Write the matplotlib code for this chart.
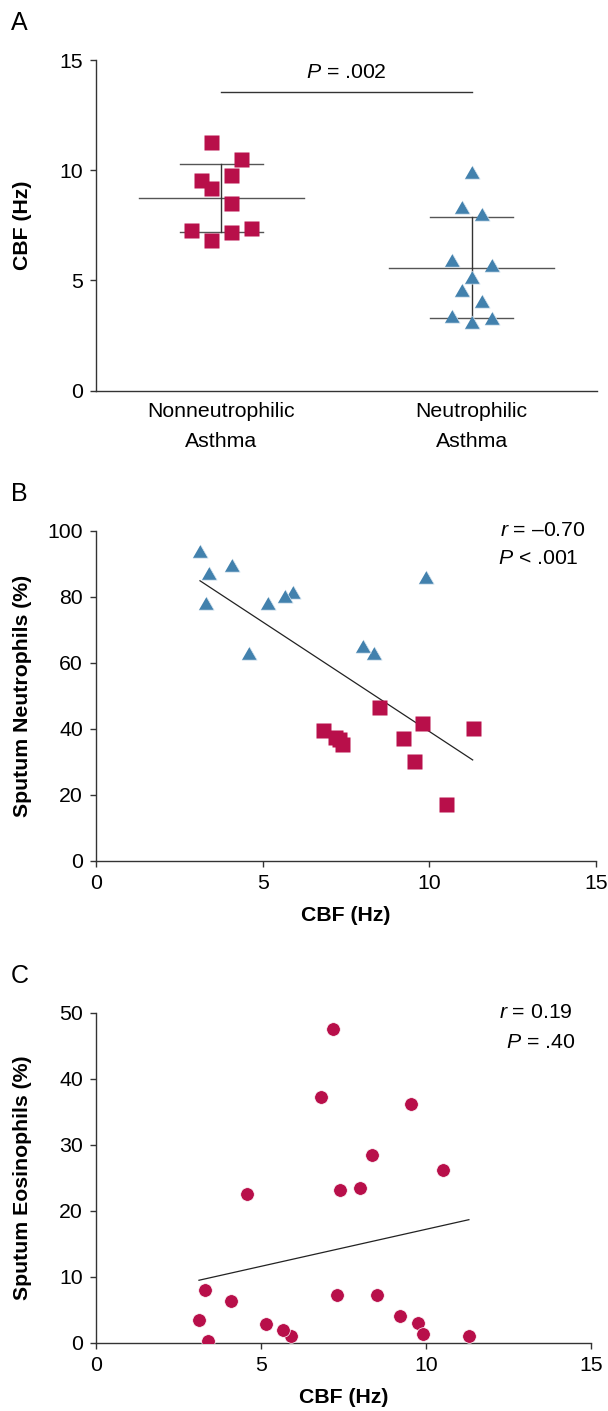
import numpy as np
import matplotlib
matplotlib.use("Agg")
import matplotlib.pyplot as plt

plt.rcParams['font.family'] = ['Liberation Sans', 'DejaVu Sans']
plt.rcParams['mathtext.fontset'] = 'custom'
plt.rcParams['mathtext.rm'] = 'Liberation Sans'
plt.rcParams['mathtext.it'] = 'Liberation Sans:italic'

# group labels for panel A
groups = ['Nonneutrophilic\nAsthma', 'Neutrophilic\nAsthma']

# nonneutrophilic asthma (squares)
non_cbf = [11.3, 10.5, 9.77, 9.54, 9.2, 8.5, 7.38, 7.3, 7.18, 6.82]
non_neut = [40.1, 17.1, 41.8, 30.1, 37.1, 46.5, 35.3, 36.8, 37.6, 39.5]
non_eos = [1.0, 26.2, 3.0, 36.2, 4.0, 7.2, 23.2, 7.2, 47.5, 37.2]

# neutrophilic asthma (triangles)
neu_cbf = [9.9, 8.35, 8.0, 5.91, 5.68, 5.15, 4.58, 4.08, 3.39, 3.3, 3.12]
neu_neut = [86.1, 63.0, 65.2, 81.4, 80.2, 78.0, 63.0, 89.6, 87.3, 78.0, 93.9]
neu_eos = [1.3, 28.5, 23.4, 1.0, 2.0, 2.8, 22.5, 6.3, 0.3, 8.0, 3.5]

# stats printed on the panels
p_groups = '.002'
r_neut, p_neut = '–0.70', '< .001'
r_eos, p_eos = '0.19', '= .40'

# horizontal spread of the points in panel A (in steps)
non_jit = [-1, 2, 1, -2, -1, 1, 3, -3, 1, -1]
neu_jit = [0, -1, 1, -2, 2, 0, -1, 1, -2, 2, 0]

RED = '#B80F4A'
BLUE = '#4281AD'
AX = '#333333'
TRI = [(-1, -0.866), (1, -0.866), (0, 0.866)]
FS = 15.3

W, H = 608, 1411
fig = plt.figure(figsize=(W / 100, H / 100), dpi=100)


def px(x0, y0, x1, y1):
    return [x0 / W, 1 - y1 / H, (x1 - x0) / W, (y1 - y0) / H]


def style(ax):
    for s in ['top', 'right']:
        ax.spines[s].set_visible(False)
    for s in ['left', 'bottom']:
        ax.spines[s].set_color(AX)
        ax.spines[s].set_linewidth(1.0)
    ax.tick_params(direction='out', length=4.5, width=1.0, color=AX,
                   labelsize=FS, pad=5)


# ---- panel A
axA = fig.add_axes(px(96, 60, 597, 390.7))
style(axA)
axA.set_xlim(0, 2)
axA.set_ylim(0, 15)
axA.set_yticks([0, 5, 10, 15])
axA.set_xticks([0.5, 1.5])
axA.set_xticklabels(groups, linespacing=1.75)
axA.tick_params(axis='x', length=0, pad=8)

step = 0.04
for xc, vals, jit in [(0.5, non_cbf, non_jit), (1.5, neu_cbf, neu_jit)]:
    m = np.mean(vals)
    s = np.std(vals, ddof=1)
    axA.plot([xc - 0.33, xc + 0.33], [m, m], color='#555555', lw=1.0, zorder=1)
    axA.plot([xc - 0.165, xc + 0.165], [m + s, m + s], color='#555555', lw=1.0, zorder=1)
    axA.plot([xc - 0.165, xc + 0.165], [m - s, m - s], color='#555555', lw=1.0, zorder=1)
    axA.plot([xc, xc], [m - s, m + s], color='#333333', lw=1.0, zorder=1)

axA.plot(0.5 + step * np.array(non_jit), non_cbf, 's', ms=10.8, color=RED,
         mec='none', zorder=3)
axA.plot(1.5 + step * np.array(neu_jit), neu_cbf, marker=TRI, ls='none', ms=11,
         color=BLUE, mec='#d5e4ef', mew=0.5, zorder=3)

axA.plot([0.5, 1.5], [13.55, 13.55], color=AX, lw=1.0)
axA.text(1.0, 14.45, '$P$ = ' + p_groups, ha='center', va='center', fontsize=FS)
axA.set_ylabel('CBF (Hz)', fontsize=FS, fontweight='bold')
axA.yaxis.set_label_coords(-0.128, 0.5)

# ---- panel B
axB = fig.add_axes(px(96, 530.7, 596, 860.7))
style(axB)
axB.set_xlim(0, 15)
axB.set_ylim(0, 100)
axB.set_xticks([0, 5, 10, 15])
axB.set_yticks(range(0, 101, 20))

all_cbf = np.array(non_cbf + neu_cbf)
all_neut = np.array(non_neut + neu_neut)
k, b = np.polyfit(all_cbf, all_neut, 1)
xs = np.array([all_cbf.min(), all_cbf.max()])
axB.plot(xs, k * xs + b, color='#222222', lw=0.9, zorder=1)

axB.plot(non_cbf, non_neut, 's', ms=10.8, color=RED, mec='none', zorder=3)
axB.plot(neu_cbf, neu_neut, marker=TRI, ls='none', ms=11, color=BLUE,
         mec='#d5e4ef', mew=0.5, zorder=3)
axB.set_xlabel('CBF (Hz)', fontsize=FS, fontweight='bold')
axB.xaxis.set_label_coords(0.5, -0.137)
axB.set_ylabel('Sputum Neutrophils (%)', fontsize=FS, fontweight='bold')
axB.yaxis.set_label_coords(-0.128, 0.5)

# ---- panel C
axC = fig.add_axes(px(96, 1012.7, 591, 1342.7))
style(axC)
axC.set_xlim(0, 15)
axC.set_ylim(0, 50)
axC.set_xticks([0, 5, 10, 15])
axC.set_yticks(range(0, 51, 10))

all_eos = np.array(non_eos + neu_eos)
k, b = np.polyfit(all_cbf, all_eos, 1)
axC.plot(xs, k * xs + b, color='#222222', lw=0.9, zorder=1)
axC.plot(all_cbf, all_eos, 'o', ms=9.8, color=RED, mec='white', mew=0.5, zorder=3)
axC.set_xlabel('CBF (Hz)', fontsize=FS, fontweight='bold')
axC.xaxis.set_label_coords(0.5, -0.137)
axC.set_ylabel('Sputum Eosinophils (%)', fontsize=FS, fontweight='bold')
axC.yaxis.set_label_coords(-0.129, 0.5)

# ---- annotations and panel letters
fig.text(586 / W, 1 - 530 / H, '$r$ = ' + r_neut, ha='right', va='center', fontsize=FS)
fig.text(578.3 / W, 1 - 559 / H, '$P$ ' + p_neut, ha='right', va='center', fontsize=FS)
fig.text(573 / W, 1 - 1012 / H, '$r$ = ' + r_eos, ha='right', va='center', fontsize=FS)
fig.text(575 / W, 1 - 1042 / H, '$P$ ' + p_eos, ha='right', va='center', fontsize=FS)

for letter, yc in [('A', 23.5), ('B', 494), ('C', 976)]:
    fig.text(11 / W, 1 - yc / H, letter, ha='left', va='center', fontsize=18)

fig.savefig('out.png', dpi=100)
